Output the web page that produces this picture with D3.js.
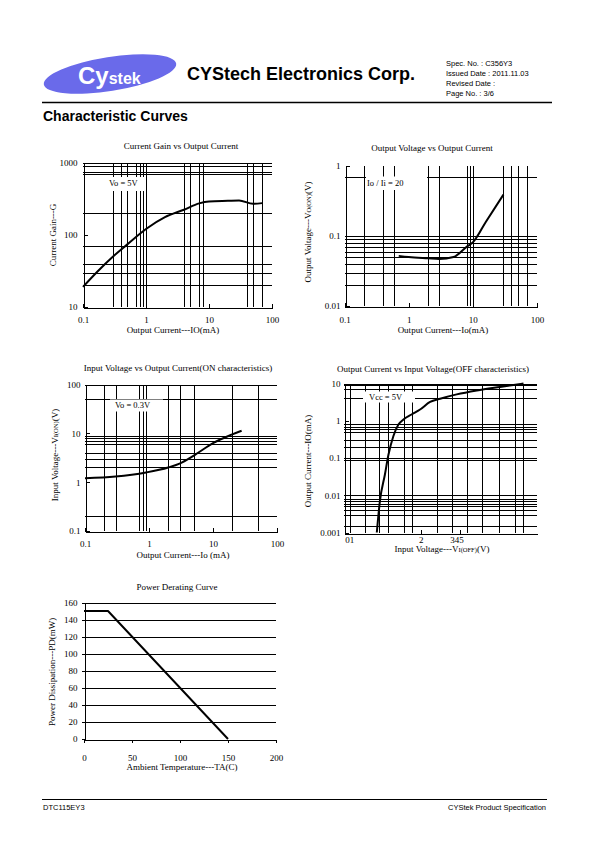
<!DOCTYPE html>
<html><head><meta charset="utf-8">
<script src="https://cdn.jsdelivr.net/npm/d3@7"></script>
<style>
body{margin:0;background:#fff}
.s text{font-family:"Liberation Serif","Times New Roman",serif;fill:#000}
.h{font-family:"Liberation Sans",Arial,sans-serif;fill:#000}
</style>
</head><body>
<svg id="c" width="595" height="842" xmlns="http://www.w3.org/2000/svg"></svg>
<script>
// ---------- data ----------
// Chart 1: Current Gain vs Output Current
const c1Io = [0.1, 0.17, 0.3, 0.5, 1, 2, 4, 7, 10, 20, 30, 50, 70];
const c1G  = [19, 31, 50, 73, 120, 175, 222, 272, 289, 295, 298, 268, 274];
const c1GridX = [0.3, 0.4, 0.5, 0.7, 0.8, 0.9, 1, 4, 5, 7, 8, 40, 50, 70];
const c1GridY = [1000, 900, 750, 700, 200, 70, 40, 30, 20];
const c1XTicks = [0.1, 1, 10, 100];
const c1XLabels = ["0.1", "1", "10", "100"];
const c1YTicks = [10, 100, 1000];
const c1YLabels = ["10", "100", "1000"];

// Chart 2: Output Voltage vs Output Current
const c2Io = [0.7, 1, 2, 3, 5, 8, 10, 16, 30];
const c2Vo = [0.052, 0.05, 0.048, 0.047, 0.05, 0.07, 0.081, 0.16, 0.39];
const c2GridX = [0.2, 0.4, 0.6, 2, 3, 8, 9, 10, 30, 40, 50, 70];
const c2GridY = [0.7, 0.1, 0.09, 0.08, 0.07, 0.06, 0.05, 0.04, 0.03, 0.02];
const c2XTicks = [0.1, 1, 10, 100];
const c2XLabels = ["0.1", "1", "10", "100"];
const c2YTicks = [0.01, 0.1, 1];
const c2YLabels = ["0.01", "0.1", "1"];

// Chart 3: Input Voltage vs Output Current (ON)
const c3Io = [0.1, 0.3, 0.9, 2, 3, 5, 10, 20, 28];
const c3Vi = [1.2, 1.3, 1.58, 2.0, 2.4, 3.5, 6.3, 9.5, 11.3];
const c3GridX = [0.2, 0.3, 0.7, 0.8, 0.9, 2, 3, 5, 20, 50];
const c3GridY = [100, 50, 9, 8, 7, 6, 4, 3, 2, 0.2];
const c3XTicks = [0.1, 1, 10, 100];
const c3XLabels = ["0.1", "1", "10", "100"];
const c3YTicks = [0.1, 1, 10, 100];
const c3YLabels = ["0.1", "1", "10", "100"];

// Chart 4: Output Current vs Input Voltage (OFF)
const c4Vi = [0.85, 0.93, 1.06, 1.15, 1.28, 1.41, 1.54, 1.75, 1.97, 2.23, 2.49, 2.92, 3.44, 4.04, 4.65];
const c4Io = [0.001, 0.007, 0.036, 0.12, 0.39, 0.79, 1.08, 1.47, 2.0, 3.2, 3.9, 5.1, 6.5, 8.1, 10];
const c4GridX = [0.16, 0.54, 0.91, 1.15, 1.56, 1.77, 2.42, 2.79, 3.18, 3.57, 4.02, 4.43, 4.63];
const c4GridY = [10, 9, 7, 4, 0.8, 0.7, 0.6, 0.5, 0.3, 0.2, 0.1, 0.09, 0.01, 0.008, 0.007, 0.006, 0.005, 0.004, 0.003, 0.0015];
const c4XTicks = [2, 3];
const c4XLabelVals = [0.15, 2, 2.93];
const c4XLabels = ["01", "2", "345"];
const c4YTicks = [0.001, 0.01, 0.1, 1, 10];
const c4YLabels = ["0.001", "0.01", "0.1", "1", "10"];

// Chart 5: Power Derating Curve
const c5Ta = [0, 25, 150];
const c5Pd = [150, 150, 0];
const c5GridY = [20, 40, 60, 80, 100, 120, 140, 160];
const c5XTicks = [0, 50, 100, 150, 200];
const c5YTicks = [0, 20, 40, 60, 80, 100, 120, 140, 160];

// ---------- drawing ----------
const svg = d3.select("#c");

function chart(c) {
  const g = svg.append("g").attr("class", "s");
  const x = (c.xLog ? d3.scaleLog() : d3.scaleLinear()).domain(c.xDomain).range([c.left, c.right]);
  const y = (c.yLog ? d3.scaleLog() : d3.scaleLinear()).domain(c.yDomain).range([c.bottom, c.top]);
  const px = v => Math.round(v) + 0.5;

  const grid = g.append("g").attr("stroke", "#000").attr("stroke-width", 1).attr("shape-rendering", "crispEdges");
  grid.selectAll("line.gx").data(c.gridX || []).join("line").attr("class", "gx")
    .attr("x1", d => px(x(d))).attr("x2", d => px(x(d))).attr("y1", c.top).attr("y2", c.bottom);
  grid.selectAll("line.gy").data(c.gridY || []).join("line").attr("class", "gy")
    .attr("y1", d => px(y(d))).attr("y2", d => px(y(d))).attr("x1", c.left).attr("x2", c.right);

  // label with white box masking grid
  if (c.label) {
    const b = c.label.box;
    g.append("rect").attr("x", b[0]).attr("y", b[1]).attr("width", b[2] - b[0]).attr("height", b[3] - b[1]).attr("fill", "#fff");
    g.append("text").attr("x", c.label.x).attr("y", c.label.y).attr("font-size", 8.5).text(c.label.text);
  }

  // axes
  const yAx = (d3.axisLeft(y).tickValues(c.yTicks).tickSizeInner(c.yTickSize).tickSizeOuter(0).tickPadding(c.yPad)
      .tickFormat((d, i) => c.yLabels[i]));
  const ya = g.append("g").attr("transform", `translate(${px(c.left)},0)`).call(yAx);
  const xAx = d3.axisBottom(x).tickValues(c.xTicks).tickSizeInner(c.xTickSize).tickSizeOuter(0).tickPadding(c.xPad)
      .tickFormat((d, i) => c.xLabels ? c.xLabels[i] : d);
  const xa = g.append("g").attr("transform", `translate(0,${px(c.bottom)})`).call(xAx);
  if (c.noXTickText) xa.selectAll("text").remove();
  [ya, xa].forEach(a => {
    a.selectAll("text").attr("font-size", 9).attr("font-family", "Liberation Serif, serif").attr("fill", "#000");
    a.selectAll("path,line").attr("stroke", "#000").attr("stroke-width", 1).attr("shape-rendering", "crispEdges");
  });
  if (c.extraXLabels) {
    g.selectAll("text.xl").data(c.extraXLabels.vals).join("text").attr("class", "xl")
      .attr("x", d => x(d)).attr("y", c.bottom + c.extraXLabels.dy).attr("text-anchor", "middle").attr("font-size", 9)
      .text((d, i) => c.extraXLabels.labels[i]);
  }

  // curve
  const pts = c.cx.map((v, i) => [x(v), y(c.cy[i])]);
  g.append("path").attr("d", d3.line().curve(c.curve || d3.curveMonotoneX)(pts))
    .attr("fill", "none").attr("stroke", "#000").attr("stroke-width", 2).attr("stroke-linejoin", "round");

  // titles
  g.append("text").attr("x", c.titlePos[0]).attr("y", c.titlePos[1]).attr("text-anchor", "middle").attr("font-size", 9).text(c.title);
  const xt = g.append("text").attr("x", c.xTitlePos[0]).attr("y", c.xTitlePos[1]).attr("text-anchor", "middle").attr("font-size", 9);
  c.xTitle.forEach(p => xt.append("tspan").attr("font-size", p[1]).text(p[0]));
  const yt = g.append("text").attr("transform", `translate(${c.yTitlePos[0]},${c.yTitlePos[1]}) rotate(-90)`)
    .attr("text-anchor", "middle").attr("font-size", 9);
  c.yTitle.forEach(p => yt.append("tspan").attr("font-size", p[1]).text(p[0]));
}

chart({
  left: 83, right: 272, top: 162.5, bottom: 307, xLog: true, yLog: true,
  xDomain: [0.1, 100], yDomain: [10, 1000], gridX: c1GridX, gridY: c1GridY,
  xTicks: c1XTicks, xLabels: c1XLabels, yTicks: c1YTicks, yLabels: c1YLabels,
  xTickSize: -4, yTickSize: -4, xPad: 9, yPad: 6,
  cx: c1Io, cy: c1G,
  label: {text: "Vo = 5V", x: 109, y: 186, box: [107, 177, 145, 191]},
  title: "Current Gain vs Output Current", titlePos: [181, 149],
  xTitle: [["Output Current---IO(mA)", 9]], xTitlePos: [173, 333],
  yTitle: [["Current Gain---G", 9]], yTitlePos: [56, 235]
});

chart({
  left: 344.5, right: 537, top: 166, bottom: 306, xLog: true, yLog: true,
  xDomain: [0.1, 100], yDomain: [0.01, 1], gridX: c2GridX, gridY: c2GridY,
  xTicks: c2XTicks, xLabels: c2XLabels, yTicks: c2YTicks, yLabels: c2YLabels,
  xTickSize: -4, yTickSize: -4, xPad: 10, yPad: 5,
  cx: c2Io, cy: c2Vo,
  label: {text: "Io / Ii = 20", x: 367, y: 186, box: [366, 176.5, 427, 190]},
  title: "Output Voltage vs Output Current", titlePos: [432, 151],
  xTitle: [["Output Current---Io(mA)", 9]], xTitlePos: [443, 333],
  yTitle: [["Output Voltage---V", 9], ["O(ON)", 6.5], ["(V)", 9]], yTitlePos: [311, 232]
});

chart({
  left: 85, right: 277, top: 384.5, bottom: 531, xLog: true, yLog: true,
  xDomain: [0.1, 100], yDomain: [0.1, 100], gridX: c3GridX, gridY: c3GridY,
  xTicks: c3XTicks, xLabels: c3XLabels, yTicks: c3YTicks, yLabels: c3YLabels,
  xTickSize: -4, yTickSize: -4, xPad: 9, yPad: 5,
  cx: c3Io, cy: c3Vi,
  label: {text: "Vo = 0.3V", x: 115, y: 408, box: [110, 399.5, 163, 411.5]},
  title: "Input Voltage vs Output Current(ON characteristics)", titlePos: [178, 371],
  xTitle: [["Output Current---Io (mA)", 9]], xTitlePos: [183, 558],
  yTitle: [["Input Voltage---V", 9], ["I(ON)", 6.5], ["(V)", 9]], yTitlePos: [58, 455]
});

chart({
  left: 344, right: 537, top: 383.5, bottom: 532.5, xLog: false, yLog: true,
  xDomain: [0, 5], yDomain: [0.001, 10], gridX: c4GridX, gridY: c4GridY,
  xTicks: c4XTicks, xLabels: null, noXTickText: true, yTicks: c4YTicks, yLabels: c4YLabels,
  xTickSize: -4, yTickSize: -4, xPad: 3, yPad: 4,
  extraXLabels: {vals: c4XLabelVals, labels: c4XLabels, dy: 10},
  cx: c4Vi, cy: c4Io,
  label: {text: "Vcc = 5V", x: 369, y: 400, box: [363, 391.5, 415, 402.5]},
  title: "Output Current vs Input Voltage(OFF characteristics)", titlePos: [433, 371.5],
  xTitle: [["Input  Voltage---V", 9], ["I(OFF)", 6.5], ["(V)", 9]], xTitlePos: [442, 552],
  yTitle: [["Output Current---IO(mA)", 9]], yTitlePos: [311, 461]
});

chart({
  left: 84, right: 276, top: 602.5, bottom: 739, xLog: false, yLog: false,
  xDomain: [0, 200], yDomain: [0, 160], gridX: [], gridY: c5GridY,
  xTicks: c5XTicks, xLabels: null, yTicks: c5YTicks, yLabels: c5YTicks.map(String),
  xTickSize: 3, yTickSize: 3, xPad: 12, yPad: 4,
  cx: c5Ta, cy: c5Pd, curve: d3.curveLinear,
  title: "Power Derating Curve", titlePos: [177, 590],
  xTitle: [["Ambient Temperature---TA(C)", 9]], xTitlePos: [182, 770],
  yTitle: [["Power Dissipation---PD(mW)", 9]], yTitlePos: [55, 672]
});

// ---------- header / footer ----------
const h = svg.append("g");
h.append("ellipse").attr("cx", 110).attr("cy", 74).attr("rx", 67).attr("ry", 17)
  .attr("transform", "rotate(-9 110 74)").attr("fill", "#6a6aea");
const lg = h.append("text").attr("class", "h").attr("x", 78).attr("y", 84).style("fill", "#fff").attr("font-weight", "bold");
lg.append("tspan").attr("font-size", 24).text("Cy");
lg.append("tspan").attr("font-size", 16).text("stek");

h.append("text").attr("class", "h").attr("x", 187).attr("y", 80).attr("font-size", 18).attr("font-weight", "bold")
  .text("CYStech Electronics Corp.");
["Spec. No. : C356Y3", "Issued Date : 2011.11.03", "Revised Date :", "Page No. : 3/6"].forEach((t, i) =>
  h.append("text").attr("class", "h").attr("x", 446).attr("y", 66 + i * 10).attr("font-size", 7.5).text(t));
h.append("line").attr("x1", 42).attr("x2", 552).attr("y1", 102.5).attr("y2", 102.5).attr("stroke", "#000").attr("stroke-width", 1.3);
h.append("text").attr("class", "h").attr("x", 43).attr("y", 121).attr("font-size", 14).attr("font-weight", "bold")
  .text("Characteristic Curves");
h.append("line").attr("x1", 42).attr("x2", 547).attr("y1", 799.5).attr("y2", 799.5).attr("stroke", "#000").attr("stroke-width", 1);
h.append("text").attr("class", "h").attr("x", 43).attr("y", 810).attr("font-size", 7.5).text("DTC115EY3");
h.append("text").attr("class", "h").attr("x", 546).attr("y", 810).attr("font-size", 7.5).attr("text-anchor", "end")
  .text("CYStek Product Specification");
</script>
</body></html>
